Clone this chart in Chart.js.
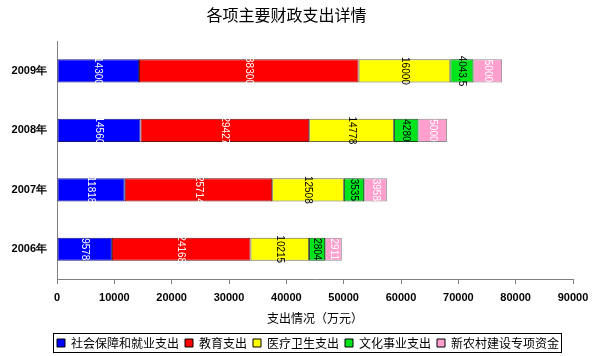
<!DOCTYPE html>
<html>
<head>
<meta charset="utf-8">
<script src="https://cdn.jsdelivr.net/npm/chart.js@4/dist/chart.umd.min.js"></script>
<style>
html,body{margin:0;padding:0;background:#fff;}
#wrap{width:600px;height:356px;position:relative;}
</style>
</head>
<body>
<div id="wrap"><canvas id="c" width="600" height="356"></canvas></div>
<script>
const categories = ['2009年', '2008年', '2007年', '2006年'];
const seriesNames = ['社会保障和就业支出', '教育支出', '医疗卫生支出', '文化事业支出', '新农村建设专项资金'];
const socialSecurity = [14300, 14560, 11818, 9578];
const education = [38300, 29427, 25714, 24168];
const healthcare = [16000, 14778, 12508, 10215];
const culture = [4043.5, 4280, 3535, 2804];
const ruralConstruction = [5000, 5000, 3958, 2911];
const xTicks = [0, 10000, 20000, 30000, 40000, 50000, 60000, 70000, 80000, 90000];

const seriesValues = [socialSecurity, education, healthcare, culture, ruralConstruction];
const fills = ['#0000ff', '#ff0000', '#ffff00', '#00e41c', '#ff9fce'];
const borders = ['#1a1a80', '#6a1010', '#6a6a40', '#204020', '#8a8a8a'];
const labelColors = ['#ffffff', '#ffffff', '#000000', '#000000', '#ffffff'];

const valueLabels = {
  id: 'valueLabels',
  afterDatasetsDraw(chart) {
    const ctx = chart.ctx;
    chart.data.datasets.forEach((ds, di) => {
      const meta = chart.getDatasetMeta(di);
      meta.data.forEach((el, i) => {
        const v = ds.data[i];
        const cx = (el.x + el.base) / 2;
        const cy = el.y;
        ctx.save();
        ctx.translate(cx, cy);
        ctx.rotate(Math.PI / 2);
        ctx.font = '10px "Liberation Sans", Arial, sans-serif';
        ctx.fillStyle = labelColors[di];
        ctx.textAlign = 'center';
        ctx.textBaseline = 'middle';
        ctx.fillText(String(v), 0, 0);
        ctx.restore();
      });
    });
  }
};

const legendPlace = {
  id: 'legendPlace',
  afterUpdate(chart) {
    const lg = chart.legend;
    if (!lg || !lg.legendHitBoxes || !lg.legendHitBoxes.length) return;
    const boxes = lg.legendHitBoxes;
    const minX = Math.min(...boxes.map(b => b.left));
    const minY = Math.min(...boxes.map(b => b.top));
    const dx = 57 - minX;
    const dy = 337 - minY;
    lg.left += dx; lg.right += dx; lg.top += dy; lg.bottom += dy;
    boxes.forEach(b => { b.left += dx; b.top += dy; });
  },
  afterDraw(chart) {
    const lg = chart.legend;
    if (!lg || !lg.legendHitBoxes || !lg.legendHitBoxes.length) return;
    let minX = Infinity, maxX = -Infinity, minY = Infinity, maxY = -Infinity;
    lg.legendHitBoxes.forEach(b => {
      minX = Math.min(minX, b.left); maxX = Math.max(maxX, b.left + b.width);
      minY = Math.min(minY, b.top); maxY = Math.max(maxY, b.top + b.height);
    });
    const ctx = chart.ctx;
    ctx.save();
    ctx.strokeStyle = '#000';
    ctx.lineWidth = 1;
    ctx.strokeRect(Math.round(minX - 4) + 0.5, Math.round(minY - 4) + 0.5, Math.round(maxX - minX + 6), Math.round(maxY - minY + 7));
    ctx.restore();
  }
};

new Chart(document.getElementById('c'), {
  type: 'bar',
  data: {
    labels: categories,
    datasets: seriesNames.map((name, i) => ({
      label: name,
      data: seriesValues[i],
      backgroundColor: fills[i],
      borderColor: borders[i],
      borderWidth: 1,
      borderSkipped: false,
      barPercentage: 0.39,
      categoryPercentage: 1
    }))
  },
  options: {
    indexAxis: 'y',
    responsive: false,
    animation: false,
    layout: { padding: { left: 0, right: 27, top: 0, bottom: 2 } },
    scales: {
      x: {
        stacked: true,
        min: 0,
        max: 90000,
        afterBuildTicks(scale) { scale.ticks = xTicks.map(v => ({ value: v })); },
        afterFit(scale) { scale.height = 47; },
        grid: { display: true, drawOnChartArea: false, drawTicks: true, tickLength: 5, color: '#808080' },
        border: { display: true, color: '#808080' },
        ticks: {
          color: '#000',
          padding: 7,
          maxRotation: 0,
          callback: v => String(v),
          font: { family: '"Liberation Sans", Arial, sans-serif', size: 11, weight: 'bold' }
        },
        title: {
          display: true,
          text: '支出情况（万元）',
          color: '#000',
          padding: { top: 0, bottom: 0 },
          font: { family: '"Noto Sans CJK SC", sans-serif', size: 12 }
        }
      },
      y: {
        stacked: true,
        afterFit(scale) { scale.width = 57; },
        grid: { display: false, drawTicks: false },
        border: { display: true, color: '#808080' },
        ticks: {
          color: '#000',
          padding: 10,
          font: { family: '"Liberation Sans", Arial, sans-serif', size: 11, weight: 'bold' }
        }
      }
    },
    plugins: {
      title: {
        display: true,
        text: '各项主要财政支出详情',
        color: '#000',
        padding: { top: 5, bottom: 17 },
        font: { family: '"Noto Sans CJK SC", sans-serif', size: 16, weight: 'normal' }
      },
      legend: {
        position: 'bottom',
        labels: {
          boxWidth: 8,
          boxHeight: 8,
          padding: 6,
          color: '#000',
          font: { family: '"Noto Sans CJK SC", sans-serif', size: 12 },
          generateLabels(chart) {
            return chart.data.datasets.map((ds, i) => ({
              text: ds.label,
              fillStyle: ds.backgroundColor,
              strokeStyle: '#000',
              lineWidth: 1,
              hidden: false,
              datasetIndex: i
            }));
          }
        }
      },
      tooltip: { enabled: false }
    }
  },
  plugins: [valueLabels, legendPlace]
});
</script>
</body>
</html>
